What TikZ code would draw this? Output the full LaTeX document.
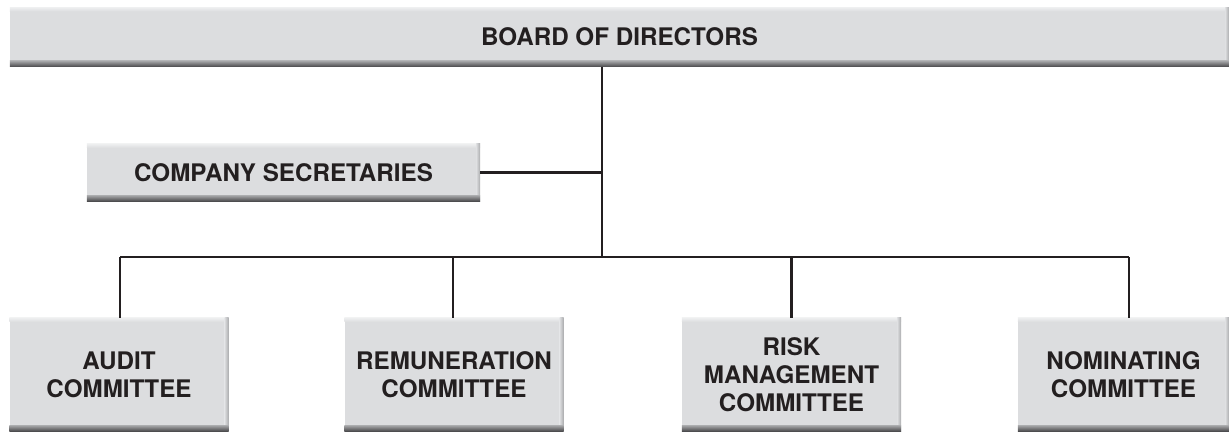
\documentclass[tikz,border=0pt]{standalone}
\usepackage{fontspec}
\setmainfont{TeX Gyre Heros}
\usetikzlibrary{calc}
\definecolor{boxfill}{HTML}{DCDDDF}
\definecolor{boxlight}{HTML}{EEEFF0}
\definecolor{boxedge}{HTML}{A9AAAC}
\definecolor{boxdark}{HTML}{4A4A4C}
\definecolor{ink}{HTML}{231F20}
\tikzset{
  orgbox/.style={fill=boxfill, inner sep=0pt, align=center, text=ink,
    font=\fontsize{24.2}{28}\selectfont\bfseries},
  link/.style={draw=ink, line width=2.8pt},
}
\newcommand{\bevel}[1]{%
  \shade[top color=boxlight, bottom color=boxfill] (#1.north west) rectangle ([yshift=-4pt]#1.north east);
  \shade[left color=boxfill, right color=boxedge] ([xshift=-4pt]#1.north east) rectangle (#1.south east);
  \shade[top color=boxedge, bottom color=boxdark] ([yshift=6pt]#1.south west) rectangle (#1.south east);
}
\begin{document}
\begin{tikzpicture}[x=1pt,y=-1pt]
\useasboundingbox (0,0) rectangle (1229,432);
% boxes
\node[orgbox, minimum width=1219pt, minimum height=59pt] (board) at (619.5,37) {BOARD OF DIRECTORS};
\node[orgbox, minimum width=393pt, minimum height=57pt] (sec) at (283.5,172.5) {COMPANY SECRETARIES};
\node[orgbox, minimum width=219pt, minimum height=113pt] (audit) at (119,374.5) {AUDIT\\COMMITTEE};
\node[orgbox, minimum width=219pt, minimum height=113pt] (remu) at (454,374.5) {REMUNERATION\\COMMITTEE};
\node[orgbox, minimum width=219pt, minimum height=113pt] (risk) at (791.5,374.5) {RISK\\MANAGEMENT\\COMMITTEE};
\node[orgbox, minimum width=211pt, minimum height=113pt] (nom) at (1123.5,374.5) {NOMINATING\\COMMITTEE};
\bevel{board}
\bevel{sec}
\bevel{audit}
\bevel{remu}
\bevel{risk}
\bevel{nom}
% connectors
\coordinate (hub) at (602,257);
\draw[link] (board.south -| hub) -- (hub);
\draw[link] (sec.east) -- (sec.east -| hub);
\draw[link] ([xshift=1pt]audit.north |- hub) -- ([xshift=5.5pt]nom.north |- hub);
\draw[link] ([xshift=1pt]audit.north |- hub) -- ([xshift=1pt]audit.north);
\draw[link] ([xshift=-1pt]remu.north |- hub) -- ([xshift=-1pt]remu.north);
\draw[link] (risk.north |- hub) -- (risk.north);
\draw[link] ([xshift=5.5pt]nom.north |- hub) -- ([xshift=5.5pt]nom.north);
\end{tikzpicture}
\end{document}
